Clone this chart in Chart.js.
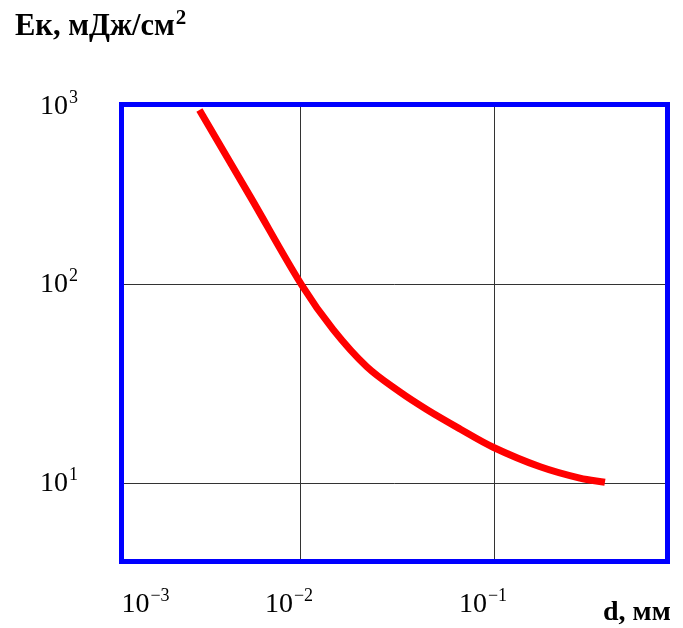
<!DOCTYPE html>
<html><head><meta charset="utf-8">
<script src="https://cdn.jsdelivr.net/npm/chart.js@4"></script>
<style>
html,body{margin:0;padding:0;background:#fff;}
#wrap{position:relative;width:683px;height:628px;overflow:hidden;font-family:"Liberation Serif","Times New Roman",serif;color:#000;}
canvas{position:absolute;left:0;top:0;}
.lbl{position:absolute;white-space:nowrap;line-height:1;font-size:28px;}
.lbl sup{font-size:18px;vertical-align:0;position:relative;top:-11px;margin-left:1px;}
#title{left:15px;top:10px;font-weight:bold;font-size:30.5px;}
#title sup{font-size:21px;top:-11px;}
#xname{left:603px;top:597px;font-weight:bold;font-size:28px;}
</style></head>
<body><div id="wrap"><canvas id="c" width="683" height="628"></canvas>
<div id="title" class="lbl">Eк, мДж/см<sup>2</sup></div>
<div id="xname" class="lbl">d, мм</div>
</div>
<script>
// Diameter d, mm
const dValues = [0.00303, 0.00559, 0.0102, 0.0148, 0.0221, 0.0327, 0.0452, 0.0668, 0.099, 0.173, 0.277, 0.373];
// Critical energy Ek, mJ/cm^2
const energyValues = [757, 274, 100, 59.8, 38.8, 29.0, 23.6, 18.9, 15.3, 12.2, 10.7, 10.2];
// Tick labels
const xTickValues = [1e-3, 1e-2, 1e-1];
const xTickExponents = ['−3', '−2', '−1'];
const yTickValues = [10, 100, 1000];
const yTickExponents = ['1', '2', '3'];
const gridXValues = [1e-2, 1e-1];
const gridYValues = [10, 100];

const wrap = document.getElementById('wrap');
function makeLabel(exp) {
  const el = document.createElement('div');
  el.className = 'lbl';
  el.innerHTML = '10<sup>' + exp + '</sup>';
  wrap.appendChild(el);
  return el;
}
const xLabelEls = xTickExponents.map(makeLabel);
const yLabelEls = yTickExponents.map(makeLabel);

const borderPlugin = {
  id: 'boxBorder',
  afterDraw(chart) {
    const a = chart.chartArea, ctx = chart.ctx;
    ctx.save();
    ctx.strokeStyle = '#0000ff';
    ctx.lineWidth = 5;
    ctx.strokeRect(a.left, a.top, a.right - a.left, a.bottom - a.top);
    ctx.restore();
  }
};

const labelPlugin = {
  id: 'powLabels',
  afterDraw(chart) {
    const a = chart.chartArea;
    const xs = chart.scales.x, ys = chart.scales.y;
    xTickValues.forEach((v, i) => {
      const px = xs.getPixelForValue(v);
      const cx = px < a.left ? a.left + 24 : px - 11;
      const el = xLabelEls[i];
      el.style.left = cx + 'px';
      el.style.top = '603px';
      el.style.transform = 'translate(-50%,-50%)';
    });
    yTickValues.forEach((v, i) => {
      const py = ys.getPixelForValue(v);
      const cy = py < a.top ? a.top : py - 2;
      const el = yLabelEls[i];
      el.style.left = '78px';
      el.style.top = cy + 'px';
      el.style.transform = 'translate(-100%,-50%)';
    });
  }
};

new Chart(document.getElementById('c').getContext('2d'), {
  type: 'line',
  data: {
    datasets: [{
      data: dValues.map((d, i) => ({ x: d, y: energyValues[i] })),
      borderColor: '#ff0000',
      borderWidth: 7,
      pointRadius: 0,
      tension: 0.35,
      fill: false
    }]
  },
  options: {
    responsive: false,
    animation: false,
    events: [],
    layout: { padding: { left: 121.5, top: 104.5, right: 15.5, bottom: 66.5 } },
    plugins: { legend: { display: false }, tooltip: { enabled: false } },
    scales: {
      x: {
        type: 'logarithmic', min: 1.202e-3, max: 0.7839,
        afterBuildTicks: s => { s.ticks = gridXValues.map(v => ({ value: v })); },
        ticks: { display: false },
        grid: { color: '#333', lineWidth: 1, drawTicks: false },
        border: { display: false }
      },
      y: {
        type: 'logarithmic', min: 4.079, max: 807,
        afterBuildTicks: s => { s.ticks = gridYValues.map(v => ({ value: v })); },
        ticks: { display: false },
        grid: { color: '#333', lineWidth: 1, drawTicks: false },
        border: { display: false }
      }
    }
  },
  plugins: [borderPlugin, labelPlugin]
});
</script>
</body></html>
